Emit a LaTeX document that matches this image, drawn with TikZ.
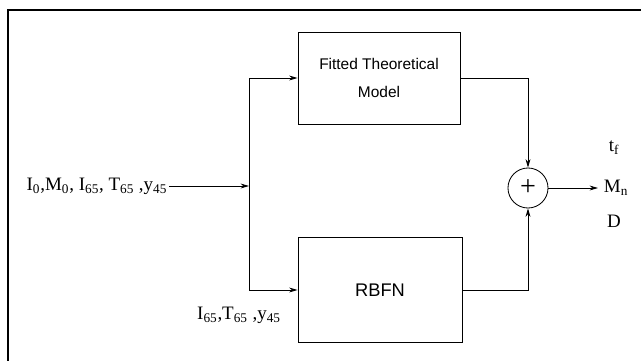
\documentclass[tikz,border=0pt]{standalone}
\usepackage{fontspec}
\setmainfont{Liberation Serif}
\newfontfamily\blockfont{Liberation Sans}
\usetikzlibrary{arrows.meta, positioning, calc}

\begin{document}
\begin{tikzpicture}[x=0.025cm, y=-0.025cm, line width=0.6pt,
    blockbox/.style={draw, rectangle, align=center, inner sep=0pt, font=\blockfont\fontsize{11}{20}\selectfont},
    sumnode/.style={draw, circle, minimum size=1cm, inner sep=0pt},
    sig/.style={inner sep=1pt, font=\fontsize{13.5}{18}\selectfont},
    flow/.style={-{Stealth[length=6pt, width=3.5pt]}}]
  \useasboundingbox (0,0) rectangle (641,361);
  % frame
  \draw[line width=0.9pt] (8,361) -- (8,10) -- (641,10);
  % blocks
  \node[blockbox, minimum width=4.05cm, minimum height=2.3cm] (fitted) at (379,78) {Fitted Theoretical\\Model};
  \node[blockbox, minimum width=4.1cm, minimum height=2.625cm, font=\blockfont\fontsize{13}{15}\selectfont] (rbfn) at (380,290) {RBFN};
  \node[sumnode] (sum) at (528,188) {\fontsize{20}{20}\selectfont +};
  % inputs
  \node[sig, anchor=east] (inp) at (169,186) {I\textsubscript{0},M\textsubscript{0}, I\textsubscript{65}, T\textsubscript{65} ,y\textsubscript{45}};
  \coordinate (split) at (249,186);
  \node[sig] (inpnet) at (239,315) {I\textsubscript{65},T\textsubscript{65} ,y\textsubscript{45}};
  \draw[flow] (inp.east) -- (split);
  \draw[flow] (split) |- (fitted.west);
  \draw[flow] (split) |- (rbfn.west);
  \draw[flow] (fitted.east) -| (sum.north);
  \draw[flow] (rbfn.east) -| (sum.south);
  % outputs
  \coordinate (out) at (598,188);
  \draw[flow] (sum.east) -- (out);
  \node[sig] (tf) at (614,148) {t\textsubscript{f}};
  \node[sig] (mn) at (616,188) {M\textsubscript{n}};
  \node[sig] (dd) at (614,221) {D};
\end{tikzpicture}
\end{document}
